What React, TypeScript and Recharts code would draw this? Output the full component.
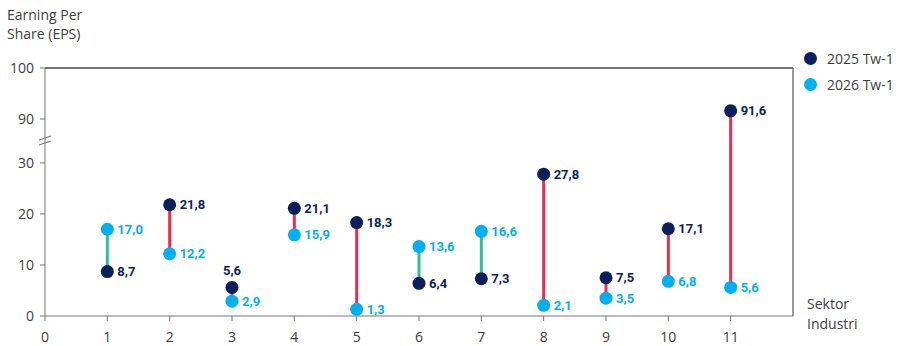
import React from 'react';
import {
  ComposedChart,
  Scatter,
  XAxis,
  YAxis,
  ReferenceLine,
  ReferenceDot
} from 'recharts';

const sectors = [1, 2, 3, 4, 5, 6, 7, 8, 9, 10, 11];
const eps2025 = [8.7, 21.8, 5.6, 21.1, 18.3, 6.4, 7.3, 27.8, 7.5, 17.1, 91.6];
const eps2026 = [17.0, 12.2, 2.9, 15.9, 1.3, 13.6, 16.6, 2.1, 3.5, 6.8, 5.6];
const yTickValues = [0, 10, 20, 30, 90, 100];
const xTickValues = [0, 1, 2, 3, 4, 5, 6, 7, 8, 9, 10, 11];

const NAVY = '#0b1f5c';
const SKY = '#00b0f0';
const RED = '#ee2a4f';
const GREEN = '#2fbf98';
const AXIS = '#767676';
const FONT = '"Open Sans", "Liberation Sans", sans-serif';
const LABEL_FONT = 'Roboto, "Liberation Sans", sans-serif';

// broken axis: 30..90 squeezed into a small gap
const GAP = 8.6;
const toAxis = (v: number) => (v <= 30 ? v : v - 90 + 30 + GAP);

const dots2025 = sectors.map((s, i) => ({ x: s, y: toAxis(eps2025[i]), v: eps2025[i] }));
const dots2026 = sectors.map((s, i) => ({ x: s, y: toAxis(eps2026[i]), v: eps2026[i] }));

const fmt = (v: number) => v.toFixed(1).replace('.', ',');

const makeDot = (color: string) => (props: any) => {
  const { cx, cy, payload } = props;
  const above = color === NAVY && payload.x === 3;
  return (
    <g>
      <circle cx={cx} cy={cy} r={6.5} fill={color} />
      {above ? (
        <text x={cx} y={cy - 12} textAnchor="middle" fontSize={13} fontWeight={700} fill={color} fontFamily={LABEL_FONT}>
          {fmt(payload.v)}
        </text>
      ) : (
        <text x={cx + 10} y={cy + 4.5} fontSize={13} fontWeight={700} fill={color} fontFamily={LABEL_FONT}>
          {fmt(payload.v)}
        </text>
      )}
    </g>
  );
};

const BreakMark = (props: any) => {
  const { cx, cy } = props;
  return (
    <g stroke={AXIS} strokeWidth={1.2}>
      <line x1={cx - 6} y1={cy - 1} x2={cx + 6} y2={cy - 5} />
      <line x1={cx - 6} y1={cy + 4} x2={cx + 6} y2={cy} />
    </g>
  );
};

const tickStyle = { fontSize: 14, fill: '#404040', fontFamily: FONT };

export default function App() {
  return (
    <div style={{ position: 'absolute', left: 0, top: 0, width: 903, height: 346, background: '#fff', fontFamily: FONT }}>
      <div style={{ position: 'absolute', left: 7, top: 5, fontSize: 14, lineHeight: '19px', color: '#404040' }}>
        Earning Per<br />Share (EPS)
      </div>
      <div style={{ position: 'absolute', left: 807, top: 294, fontSize: 14, lineHeight: '20px', color: '#404040' }}>
        Sektor<br />Industri
      </div>
      <div style={{ position: 'absolute', left: 804, top: 45, fontSize: 14, color: '#404040' }}>
        {[{ c: NAVY, t: '2025 Tw-1' }, { c: SKY, t: '2026 Tw-1' }].map((l) => (
          <div key={l.t} style={{ display: 'flex', alignItems: 'center', height: 26 }}>
            <span style={{ width: 13, height: 13, borderRadius: '50%', background: l.c, display: 'inline-block', marginRight: 10 }} />
            {l.t}
          </div>
        ))}
      </div>
      <ComposedChart width={903} height={346} margin={{ top: 68, right: 110, bottom: 0, left: 0 }}>
        <XAxis
          type="number"
          dataKey="x"
          domain={[0, 12]}
          ticks={xTickValues}
          interval={0}
          stroke={AXIS}
          tickSize={5}
          tickMargin={11}
          height={30}
          tick={tickStyle}
          allowDataOverflow
        />
        <YAxis
          type="number"
          dataKey="y"
          domain={[0, toAxis(100)]}
          ticks={yTickValues.map(toAxis)}
          tickFormatter={(t: number) => String(yTickValues[yTickValues.map(toAxis).findIndex((a) => Math.abs(a - t) < 0.01)])}
          interval={0}
          stroke={AXIS}
          tickSize={5}
          tickMargin={6}
          width={45}
          tick={tickStyle}
          allowDataOverflow
        />
        <ReferenceLine y={toAxis(100)} stroke={AXIS} strokeWidth={2} />
        <ReferenceLine x={12} stroke={AXIS} strokeWidth={1.5} />
        <ReferenceDot x={0} y={30 + GAP / 2} r={0} shape={BreakMark} ifOverflow="visible" />
        {sectors.map((s, i) => (
          <ReferenceLine
            key={s}
            segment={[{ x: s, y: toAxis(eps2025[i]) }, { x: s, y: toAxis(eps2026[i]) }]}
            stroke={eps2026[i] >= eps2025[i] ? GREEN : RED}
            strokeWidth={3}
          />
        ))}
        <Scatter name="2025 Tw-1" data={dots2025} shape={makeDot(NAVY)} isAnimationActive={false} />
        <Scatter name="2026 Tw-1" data={dots2026} shape={makeDot(SKY)} isAnimationActive={false} />
      </ComposedChart>
    </div>
  );
}
